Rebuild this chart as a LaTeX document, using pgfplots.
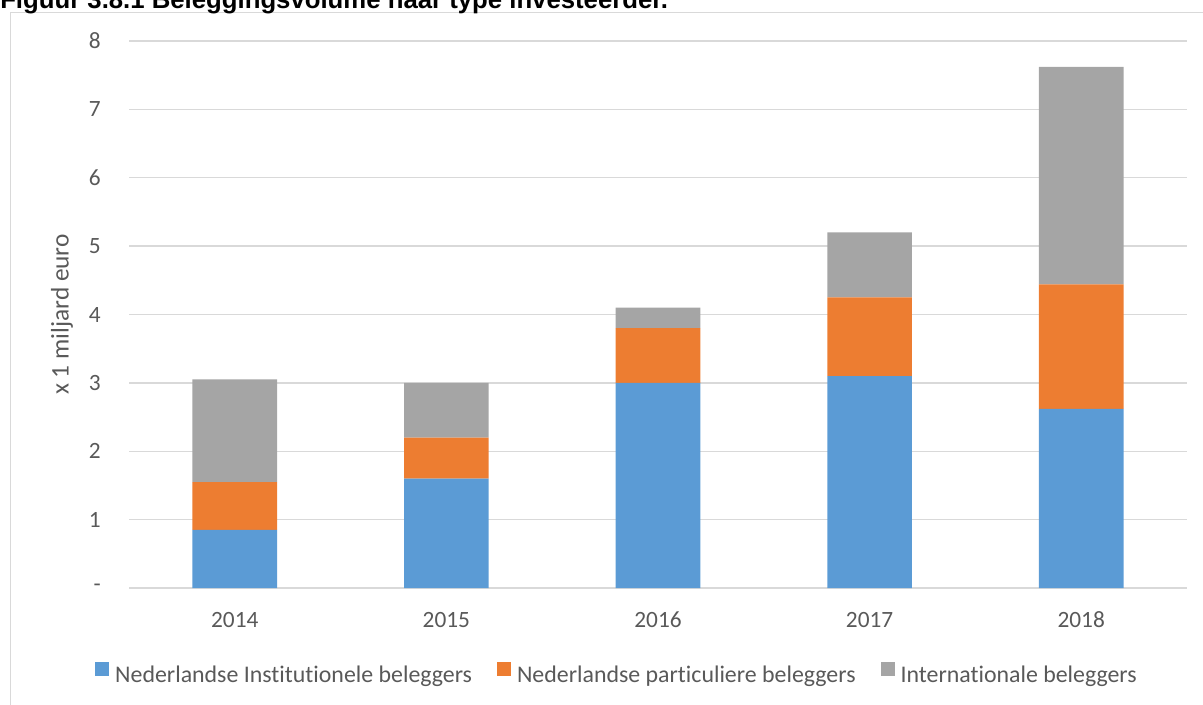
\documentclass[border=0pt]{standalone}
\usepackage{pgfplots}
\pgfplotsset{compat=1.18}
\usepackage{fontspec}
\setmainfont{Carlito}[Ligatures=NoCommon]
\newfontfamily\titlefont{Liberation Sans}
\definecolor{cblue}{HTML}{5B9BD5}
\definecolor{corange}{HTML}{ED7D31}
\definecolor{cgray}{HTML}{A5A5A5}
\definecolor{gridgray}{HTML}{D9D9D9}
\definecolor{txt}{HTML}{595959}
\begin{document}
\begin{tikzpicture}
\useasboundingbox (0pt,0pt) rectangle (902.25pt,-528pt);
\clip (0pt,0pt) rectangle (902.25pt,-528pt);
\draw[gridgray, line width=1.2pt] (8pt,-600pt) -- (8pt,-9.4pt) -- (1000pt,-9.4pt);
\node[anchor=base west, inner sep=0pt, font=\titlefont\bfseries\fontsize{19.3}{22}\selectfont] at (0pt,-6.6pt) {Figuur 3.8.1 Beleggingsvolume naar type investeerder.};
\begin{axis}[
  at={(96.75pt,-441pt)}, anchor=south west,
  scale only axis, width=793.5pt, height=410.25pt,
  xmin=-0.5, xmax=4.5, ymin=0, ymax=8,
  ybar stacked, bar width=0.4,
  xtick={0,1,2,3,4}, xticklabels={2014,2015,2016,2017,2018},
  ytick={0,1,2,3,4,5,6,7,8}, yticklabels={-,1,2,3,4,5,6,7,8},
  ymajorgrids, grid style={gridgray, line width=1.1pt},
  axis line style={draw=none}, major tick length=0pt,
  tick label style={font=\fontsize{17.5}{20}\selectfont, text=txt},
  /pgf/number format/assume math mode=true,
  xticklabel style={anchor=base, inner sep=0pt, yshift=-29.25pt},
  yticklabel style={anchor=east, inner sep=0pt, xshift=-21pt},
  ylabel={x 1 miljard euro},
  every axis y label/.style={at={(axis description cs:-0.0633,0.5)}, rotate=90, anchor=center, font=\fontsize{19}{22}\selectfont, text=txt},
  legend columns=-1,
  legend style={at={(axis description cs:0.4603,-0.1554)}, anchor=center, draw=none, fill=none,
    font=\fontsize{17.9}{20}\selectfont, text=txt, nodes={inner sep=0pt},
    /tikz/every odd column/.append style={column sep=4.5pt},
    /tikz/every even column/.append style={column sep=18.75pt}},
  legend image code/.code={\fill[#1] (0pt,-0.3pt) rectangle (10.5pt,10.2pt);},
]
\addplot[fill=cblue, draw=none] coordinates {(0,0.85) (1,1.6) (2,3.0) (3,3.1) (4,2.62)};
\addplot[fill=corange, draw=none] coordinates {(0,0.7) (1,0.6) (2,0.8) (3,1.15) (4,1.82)};
\addplot[fill=cgray, draw=none] coordinates {(0,1.5) (1,0.8) (2,0.3) (3,0.95) (4,3.18)};
\legend{Nederlandse Institutionele beleggers, Nederlandse particuliere beleggers, Internationale beleggers}
\end{axis}
\end{tikzpicture}
\end{document}
